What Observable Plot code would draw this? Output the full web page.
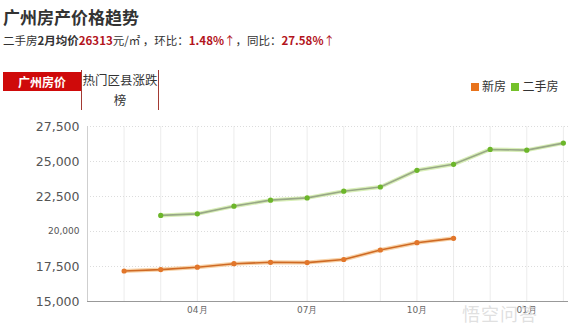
<!DOCTYPE html>
<html><head><meta charset="utf-8">
<script src="https://cdn.jsdelivr.net/npm/d3@7"></script>
<script src="https://cdn.jsdelivr.net/npm/@observablehq/plot@0.6"></script>
<style>
html,body{margin:0;padding:0;background:#fff;}
#wrap{position:relative;width:578px;height:327px;overflow:hidden;font-family:"Noto Sans CJK SC","Noto Sans",sans-serif;color:#333;}
.abs{position:absolute;white-space:nowrap;}
#title{left:3px;top:5px;font-size:17px;font-weight:bold;color:#333;line-height:24px;}
#sub{left:3px;top:31px;font-size:11.5px;line-height:18px;color:#333;}
#sub b{font-weight:bold;}
#sub .r{color:#b3141c;font-weight:bold;}
#sub .a{color:#b3141c;}
#tab1{left:3px;top:72px;width:78px;height:19px;background:#cf0a0a;color:#fff;font-weight:bold;font-size:12px;line-height:19px;text-align:center;}
#tab2{left:81px;top:70px;width:76px;height:40px;border:1px solid #a33a33;border-top:none;font-size:12.5px;line-height:20px;text-align:center;color:#333;background:#fff;}
#legend{left:471px;top:78px;font-size:12px;line-height:16px;color:#333;}
#legend .sw{display:inline-block;width:8px;height:8px;margin-right:3px;vertical-align:-0px;}
#chart{left:0;top:110px;}
#wm{left:462px;top:300px;font-size:18px;color:rgba(210,210,210,0.7);letter-spacing:1px;}
</style></head>
<body><div id="wrap">
<div id="title" class="abs">广州房产价格趋势</div>
<div id="sub" class="abs">二手房<b>2月均价</b><span class="r">26313</span>元/㎡ ，环比：<span class="r">1.48%</span><span class="a">↑</span>，同比：<span class="r">27.58%</span><span class="a">↑</span></div>
<div id="tab1" class="abs">广州房价</div>
<div id="tab2" class="abs">热门区县涨跌<br>榜</div>
<div id="legend" class="abs"><span class="sw" style="background:#e8731c"></span>新房&nbsp;&nbsp;<span class="sw" style="background:#74c12a"></span>二手房</div>
<div id="chart" class="abs"></div>
<div id="wm" class="abs">悟空问答</div>
</div>
<script>
const months = ["02月","03月","04月","05月","06月","07月","08月","09月","10月","11月","12月","01月","02月"];
const newHouse = [17180, 17280, 17450, 17700, 17800, 17780, 18000, 18680, 19200, 19510, null, null, null];
const secondHand = [null, 21150, 21260, 21810, 22240, 22400, 22880, 23180, 24370, 24800, 25860, 25810, 26313];
const yTicks = [15000, 17500, 20000, 22500, 25000, 27500];
const xTickIdx = [2, 5, 8, 11];

const idx = months.map((m, i) => i);
const newData = idx.filter(i => newHouse[i] != null).map(i => ({i, v: newHouse[i]}));
const secData = idx.filter(i => secondHand[i] != null).map(i => ({i, v: secondHand[i]}));

const chart = Plot.plot({
  width: 578, height: 217,
  marginLeft: 87, marginRight: 10, marginTop: 16, marginBottom: 26,
  x: {domain: [-1, 12.14], axis: null, label: null},
  y: {domain: [15000, 27500], axis: null, label: null},
  style: {fontFamily: "DejaVu Sans, sans-serif", background: "#fff"},
  marks: [
    Plot.ruleX(idx, {y1: 15000, y2: 27500, stroke: "#ececec", strokeWidth: 1}),
    Plot.ruleY(yTicks.filter(t => t > 15000), {x1: -1, x2: 12.14, stroke: "#dcdcdc", strokeDasharray: "1,2"}),
    Plot.ruleX([-1], {y1: 15000, y2: 27500, stroke: "#cfcfcf"}),
    Plot.ruleY([15000], {x1: -1, x2: 12.14, stroke: "#999"}),
    Plot.line(secData, {x: "i", y: "v", stroke: "#d9efb8", strokeWidth: 4}),
    Plot.line(secData, {x: "i", y: "v", stroke: "#98a886", strokeWidth: 1.6}),
    Plot.dot(secData, {x: "i", y: "v", r: 2.6, fill: "#6cb62a", stroke: "none"}),
    Plot.line(newData, {x: "i", y: "v", stroke: "#f7d2a8", strokeWidth: 4}),
    Plot.line(newData, {x: "i", y: "v", stroke: "#cf6a24", strokeWidth: 1.6}),
    Plot.dot(newData, {x: "i", y: "v", r: 2.6, fill: "#e2762a", stroke: "none"}),
    Plot.axisY(yTicks, {
      tickSize: 0, tickPadding: 8, label: null,
      tickFormat: d => d3.format(",")(d),
      fontSize: d => d === 20000 ? 9 : 12.5,
      fill: "#555"
    }),
    Plot.axisX(xTickIdx, {
      tickSize: 0, tickPadding: 5, label: null,
      tickFormat: i => months[i],
      fontSize: 9, fill: "#666"
    })
  ]
});
document.getElementById("chart").appendChild(chart);
</script>
</body></html>
